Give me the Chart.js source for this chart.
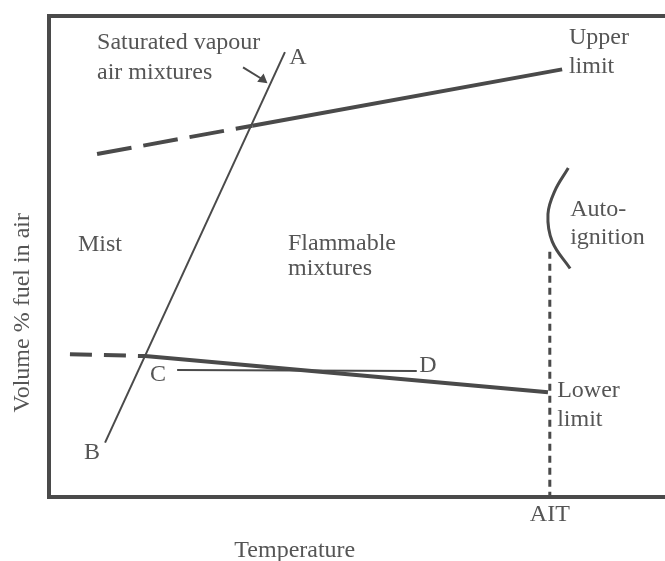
<!DOCTYPE html>
<html>
<head>
<meta charset="utf-8">
<script src="https://cdn.jsdelivr.net/npm/chart.js@4.4.0/dist/chart.umd.min.js"></script>
<style>
html, body { margin: 0; padding: 0; background: #fff; overflow: hidden; }
#wrap { width: 665px; height: 561px; }
</style>
</head>
<body>
<div id="wrap"><canvas id="chart"></canvas></div>
<script>
// schematic flammability diagram, arbitrary units 0..100 on both axes
const upperLimitDashed = [{ x: 7.8, y: 71.3 }, { x: 33.0, y: 77.2 }];
const upperLimit = [{ x: 33.0, y: 77.2 }, { x: 83.3, y: 88.9 }];
const lowerLimitDashed = [{ x: 3.4, y: 29.7 }, { x: 15.6, y: 29.3 }];
const lowerLimit = [{ x: 15.6, y: 29.3 }, { x: 81.0, y: 21.8 }];
const saturatedVapour = [{ x: 9.1, y: 11.3 }, { x: 38.3, y: 92.5 }]; // B -> A
const lineCD = [{ x: 20.8, y: 26.4 }, { x: 59.7, y: 26.2 }];
const aitTemp = 81.3;
const aitLine = [{ x: aitTemp, y: 51.0 }, { x: aitTemp, y: 0 }];
const autoIgnitionArc = [
    { x: 84.3, y: 68.4 }, { x: 82.1, y: 63.6 }, { x: 81.0, y: 58.8 },
    { x: 81.7, y: 53.1 }, { x: 84.6, y: 47.5 }
];
const pointerArrow = [{ x: 31.5, y: 89.3 }, { x: 34.7, y: 86.8 }];

const xTickLabels = ['AIT'];
const xTitle = 'Temperature';
const yTitle = 'Volume % fuel in air';

// [text, x, y, align]
const regionLabels = [
    ['Saturated vapour', 7.8, 94.4, 'left'],
    ['air mixtures', 7.8, 88.3, 'left'],
    ['A', 40.4, 91.4, 'center'],
    ['Upper', 84.4, 95.4, 'left'],
    ['limit', 84.4, 89.5, 'left'],
    ['Mist', 4.7, 52.5, 'left'],
    ['Flammable', 38.8, 52.7, 'left'],
    ['mixtures', 38.8, 47.5, 'left'],
    ['Auto-', 84.6, 59.8, 'left'],
    ['ignition', 84.6, 54.0, 'left'],
    ['B', 7.0, 9.2, 'center'],
    ['C', 17.7, 25.5, 'center'],
    ['D', 61.5, 27.2, 'center'],
    ['Lower', 82.5, 22.0, 'left'],
    ['limit', 82.5, 16.1, 'left']
];

const ink = '#4a4a4a';
const textColor = '#555555';
const serif = '"Liberation Serif", "Times New Roman", serif';

const lineSet = (data, width, dash) => ({
    data: data,
    showLine: true,
    borderColor: ink,
    backgroundColor: ink,
    borderWidth: width,
    borderDash: dash || [],
    borderCapStyle: 'butt',
    pointRadius: 0,
    pointHoverRadius: 0,
    fill: false
});

const labelPlugin = {
    id: 'regionLabels',
    afterDatasetsDraw(chart) {
        const { ctx, chartArea, scales: { x, y } } = chart;
        ctx.save();
        ctx.font = '24px ' + serif;
        ctx.fillStyle = textColor;
        ctx.textBaseline = 'middle';
        regionLabels.forEach(([text, lx, ly, align]) => {
            ctx.textAlign = align;
            ctx.fillText(text, x.getPixelForValue(lx), y.getPixelForValue(ly));
        });
        // axis titles sit off-centre in the original
        ctx.textAlign = 'center';
        ctx.fillText(xTitle, x.getPixelForValue(39.9), chartArea.bottom + 54);
        ctx.translate(23, y.getPixelForValue(38.3));
        ctx.rotate(-Math.PI / 2);
        ctx.fillText(yTitle, 0, 0);
        ctx.restore();
    }
};

const arrow = lineSet(pointerArrow, 2);
arrow.pointRadius = [0, 4];
arrow.pointStyle = 'triangle';
arrow.pointRotation = 128;

const arc = lineSet(autoIgnitionArc, 3);
arc.tension = 0.4;

new Chart(document.getElementById('chart'), {
    type: 'scatter',
    data: {
        datasets: [
            lineSet(upperLimitDashed, 4, [35, 12]),
            lineSet(upperLimit, 4),
            lineSet(lowerLimitDashed, 4, [22, 12]),
            lineSet(lowerLimit, 4),
            lineSet(saturatedVapour, 2),
            lineSet(lineCD, 2),
            lineSet(aitLine, 3, [7, 5]),
            arc,
            arrow
        ]
    },
    options: {
        responsive: true,
        maintainAspectRatio: false,
        animation: false,
        layout: { autoPadding: false, padding: { left: 49, top: 16, right: 0, bottom: 28 } },
        plugins: { legend: { display: false }, tooltip: { enabled: false } },
        scales: {
            x: {
                type: 'linear', min: 0, max: 100,
                grid: { display: false, drawTicks: false },
                border: { display: true, color: ink, width: 4 },
                afterBuildTicks: axis => { axis.ticks = [{ value: aitTemp }]; },
                ticks: {
                    callback: () => xTickLabels[0],
                    maxRotation: 0, autoSkip: false, padding: 6,
                    color: textColor, font: { family: serif, size: 24, lineHeight: 1 }
                }
            },
            x2: {
                type: 'linear', position: 'top', min: 0, max: 100,
                grid: { display: false, drawTicks: false },
                border: { display: true, color: ink, width: 4 },
                ticks: { display: false }
            },
            y: {
                type: 'linear', min: 0, max: 100,
                grid: { display: false, drawTicks: false },
                border: { display: true, color: ink, width: 4 },
                ticks: { display: false }
            }
        }
    },
    plugins: [labelPlugin]
});
</script>
</body>
</html>
